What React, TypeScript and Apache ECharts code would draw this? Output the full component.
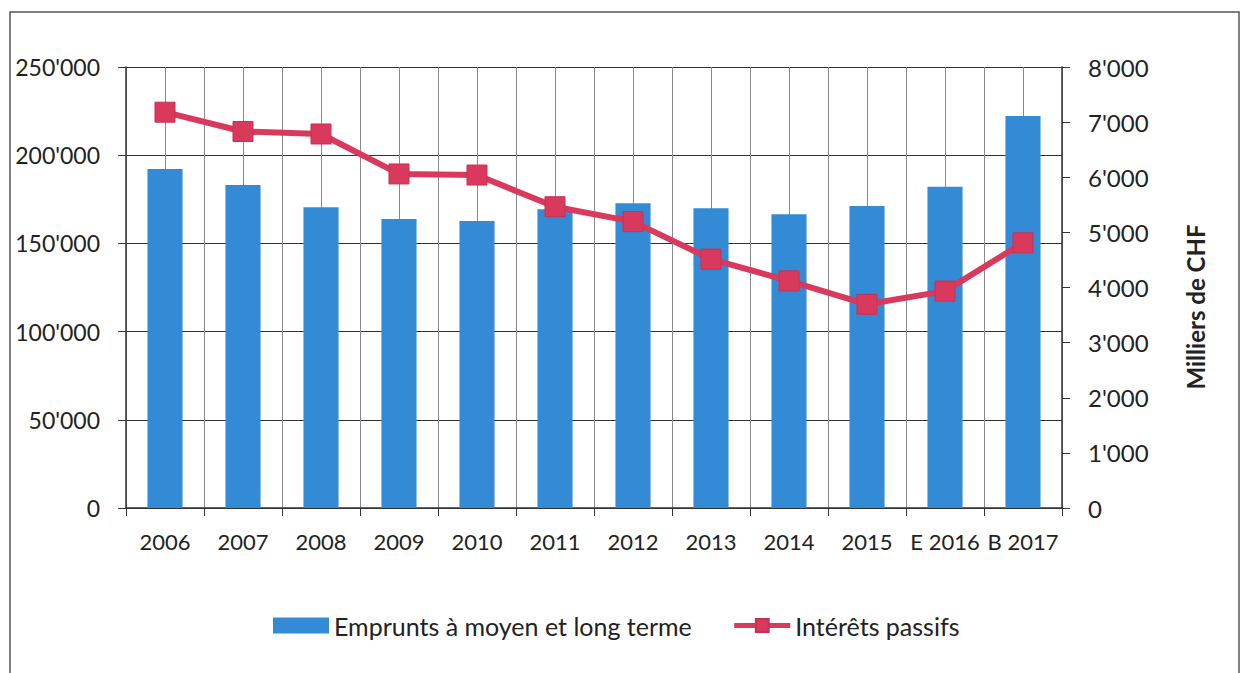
import React, { useEffect, useRef } from "react";
import * as echarts from "echarts";

const categories = ["2006", "2007", "2008", "2009", "2010", "2011", "2012", "2013", "2014", "2015", "E 2016", "B 2017"];
const emprunts = [192200, 183100, 170500, 163800, 162700, 169300, 172700, 169900, 166500, 171200, 182100, 222200];
const interets = [7180, 6830, 6785, 6060, 6040, 5465, 5195, 4515, 4120, 3695, 3935, 4810];
const halfSlots = categories.flatMap((c) => [c + "a", c + "b"]);

const fmt = (v: number) => String(v).replace(/\B(?=(\d{3})+(?!\d))/g, "'");
const FONT = "Lato";

export default function App() {
  const ref = useRef<HTMLDivElement>(null);
  useEffect(() => {
    document.body.style.margin = "0";
    const chart = echarts.init(ref.current!, undefined, { renderer: "svg" });
    chart.setOption({
      animation: false,
      backgroundColor: "#ffffff",
      textStyle: { fontFamily: FONT },
      graphic: [
        {
          type: "rect",
          shape: { x: 10, y: 12, width: 1229, height: 700 },
          style: { fill: "none", stroke: "#555", lineWidth: 1.5 },
          silent: true,
          z: -1,
        },
        {
          type: "text",
          x: 1195,
          y: 307,
          rotation: Math.PI / 2,
          style: {
            text: "Milliers de CHF",
            fontFamily: FONT,
            fontSize: 24,
            fontWeight: "bold",
            fill: "#222",
            align: "center",
            verticalAlign: "middle",
          },
        },
      ],
      grid: { left: 126, right: 179, top: 67, bottom: 165 },
      legend: {
        left: 268,
        top: 608,
        itemGap: 40,
        itemWidth: 56,
        itemHeight: 16,
        textStyle: { fontFamily: FONT, fontSize: 25, color: "#222" },
        data: [
          { name: "Emprunts à moyen et long terme", icon: "rect", itemStyle: { color: "#338BD6" } },
          { name: "Intérêts passifs", lineStyle: { width: 5 } },
        ],
      },
      xAxis: [
        {
          type: "category",
          data: categories,
          boundaryGap: true,
          axisLine: { show: true, lineStyle: { color: "#333", width: 1.5 } },
          axisTick: { show: true, length: 8, lineStyle: { color: "#333" } },
          axisLabel: { color: "#222", fontSize: 22, fontFamily: FONT, margin: 22, interval: 0 },
          splitLine: { show: false },
        },
        {
          type: "category",
          data: halfSlots,
          boundaryGap: true,
          position: "bottom",
          axisLine: { show: false },
          axisTick: { show: false },
          axisLabel: { show: false },
          splitLine: { show: true, interval: 0, lineStyle: { color: "#8a8a8a", width: 1 } },
        },
      ],
      yAxis: [
        {
          type: "value",
          min: 0,
          max: 250000,
          interval: 50000,
          axisLine: { show: true, lineStyle: { color: "#333", width: 1.5 } },
          axisTick: { show: true, length: 8, lineStyle: { color: "#333" } },
          axisLabel: { color: "#222", fontSize: 23, fontFamily: FONT, margin: 26, formatter: (v: number) => fmt(v) },
          splitLine: { show: true, lineStyle: { color: "#333", width: 1 } },
        },
        {
          type: "value",
          min: 0,
          max: 8000,
          interval: 1000,
          position: "right",
          axisLine: { show: true, lineStyle: { color: "#333", width: 1.5 } },
          axisTick: { show: true, length: 8, lineStyle: { color: "#333" } },
          axisLabel: { color: "#222", fontSize: 24, fontFamily: FONT, margin: 26, formatter: (v: number) => fmt(v) },
          splitLine: { show: false },
        },
      ],
      series: [
        {
          name: "Emprunts à moyen et long terme",
          type: "bar",
          xAxisIndex: 0,
          yAxisIndex: 0,
          data: emprunts,
          barWidth: "45%",
          itemStyle: { color: "#338BD6" },
        },
        {
          name: "Intérêts passifs",
          type: "line",
          xAxisIndex: 0,
          yAxisIndex: 1,
          data: interets,
          symbol: "rect",
          symbolSize: 20,
          lineStyle: { color: "#D9395C", width: 6 },
          itemStyle: { color: "#D9395C", borderColor: "#C8304F", borderWidth: 1 },
        },
      ],
    });
    return () => chart.dispose();
  }, []);
  return <div ref={ref} style={{ width: 1241, height: 673 }} />;
}
